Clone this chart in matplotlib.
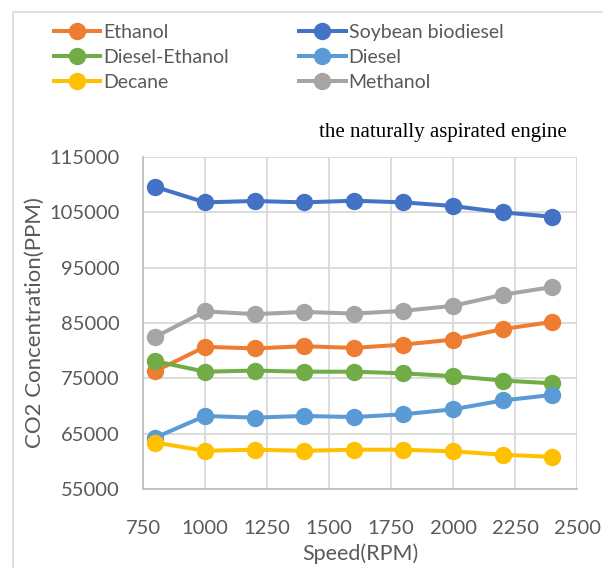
import matplotlib
matplotlib.use('Agg')
import matplotlib.pyplot as plt
from matplotlib.patches import Rectangle

speed = [800, 1000, 1200, 1400, 1600, 1800, 2000, 2200, 2400]
ethanol = [76300, 80700, 80400, 80800, 80500, 81100, 82000, 83900, 85200]
soybean = [109600, 106800, 107050, 106800, 107100, 106800, 106150, 105000, 104200]
diesel_ethanol = [78100, 76200, 76400, 76200, 76200, 75900, 75400, 74600, 74100]
diesel = [64300, 68200, 67900, 68200, 68000, 68500, 69400, 71000, 72000]
decane = [63400, 61900, 62100, 61900, 62100, 62100, 61800, 61200, 60800]
methanol = [82500, 87100, 86600, 87000, 86700, 87200, 88100, 90100, 91500]

xticks = [750, 1000, 1250, 1500, 1750, 2000, 2250, 2500]
yticks = [55000, 65000, 75000, 85000, 95000, 105000, 115000]

plt.rcParams['font.family'] = ['Lato', 'DejaVu Sans']
grey_txt = '#595959'

fig = plt.figure(figsize=(6.03, 5.68), dpi=100)
fig.patches.append(Rectangle((13/603, -0.1), 1.2, 1 - 12/568 + 0.1, transform=fig.transFigure,
                             fill=False, edgecolor='#D9D9D9', linewidth=1.2))
ax = fig.add_axes([143/603, 1 - 489/568, 434/603, 332/568])

series = [
    ('Ethanol', ethanol, '#ED7D31'),
    ('Soybean biodiesel', soybean, '#4472C4'),
    ('Diesel-Ethanol', diesel_ethanol, '#70AD47'),
    ('Diesel', diesel, '#5B9BD5'),
    ('Decane', decane, '#FFC000'),
    ('Methanol', methanol, '#A5A5A5'),
]
handles = {}
for name, vals, col in series:
    h, = ax.plot(speed, vals, color=col, lw=2.9, marker='o', ms=11.5, label=name, zorder=3)
    handles[name] = h

ax.set_xlim(750, 2500)
ax.set_ylim(55000, 115000)
ax.set_xticks(xticks)
ax.set_yticks(yticks)
ax.grid(True, color='#D9D9D9', lw=1.3)
ax.set_axisbelow(True)
for s in ['top', 'right']:
    ax.spines[s].set_visible(False)
for s in ['left', 'bottom']:
    ax.spines[s].set_color('#BFBFBF')
    ax.spines[s].set_linewidth(1.3)
ax.tick_params(length=0, labelsize=14.5, labelcolor=grey_txt)
ax.tick_params(axis='y', pad=17)
ax.tick_params(axis='x', pad=22)
ax.set_xlabel('Speed(RPM)', fontsize=15.5, color=grey_txt, labelpad=5)
ax.set_ylabel('CO2 Concentration(PPM)', fontsize=16, color=grey_txt, labelpad=3)

fig.text(567/603, 1 - 132/568, 'the naturally aspirated engine', ha='right', va='center',
         fontsize=15, family='Liberation Serif', color='black')

# legend is filled column by column, so list it in that order
order = ['Ethanol', 'Diesel-Ethanol', 'Decane', 'Soybean biodiesel', 'Diesel', 'Methanol']
fig.legend(handles=[handles[n] for n in order], loc='upper left',
           bbox_to_anchor=(46/603, 1 - 16/568), ncol=2,
           frameon=False, fontsize=14, labelcolor=grey_txt, handlelength=2.4, handletextpad=0.15,
           columnspacing=3.6, labelspacing=0.42, borderaxespad=0)

fig.savefig('out.png', dpi=100)
